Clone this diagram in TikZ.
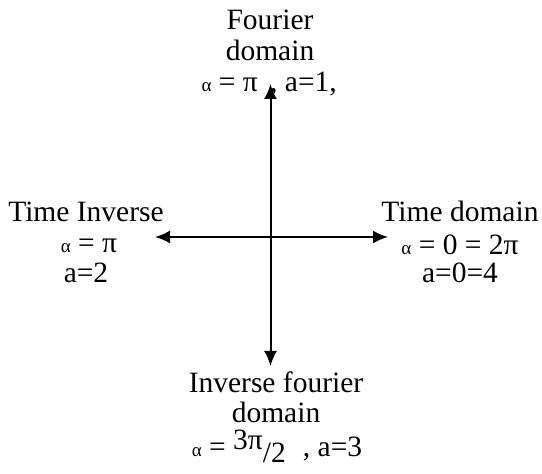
\documentclass[tikz,border=0pt]{standalone}
\usepackage{fontspec}
\setmainfont{Liberation Serif}
\usetikzlibrary{arrows.meta}
\newcommand\alf{{\fontsize{19}{20}\selectfont α}}
\begin{document}
\begin{tikzpicture}[x=1pt,y=1pt,
 lbl/.style={anchor=base, inner sep=0pt, font=\fontsize{29.5}{30}\selectfont},
 ax/.style={line width=2pt, {Latex[length=15pt,width=13pt]}-{Latex[length=15pt,width=13pt]}}]
\useasboundingbox (0,0) rectangle (542,474);
% labels: top
\node[lbl] (f1) at (270,444) {Fourier};
\node[lbl] (f2) at (270,413) {domain};
\node[lbl, anchor=base east] (f3a) at (258,382) {\alf{} = π};
\node[lbl, anchor=base west] (f3b) at (270,382) {, a=1,};
% left
\node[lbl] (l1) at (86,252) {Time Inverse};
\node[lbl] (l2) at (89,221) {\alf{} = π};
\node[lbl] (l3) at (86,191) {a=2};
% right
\node[lbl] (r1) at (460,252) {Time domain};
\node[lbl] (r2) at (460,219) {\alf{} = 0 = 2π};
\node[lbl] (r3) at (460,191) {a=0=4};
% bottom
\node[lbl] (b1) at (276,81) {Inverse fourier};
\node[lbl] (b2) at (276,51) {domain};
\node[lbl] (b3) at (277,17) {\alf{} = \raisebox{7pt}{3π}\raisebox{-6pt}{/2}\,\, , a=3};
% axes
\coordinate (top) at (270.5,390);
\coordinate (bot) at (270.5,108);
\coordinate (lft) at (155,237);
\coordinate (rgt) at (388,237);
\draw[ax] (bot) -- (top);
\draw[ax] (lft) -- (rgt);
\end{tikzpicture}
\end{document}
